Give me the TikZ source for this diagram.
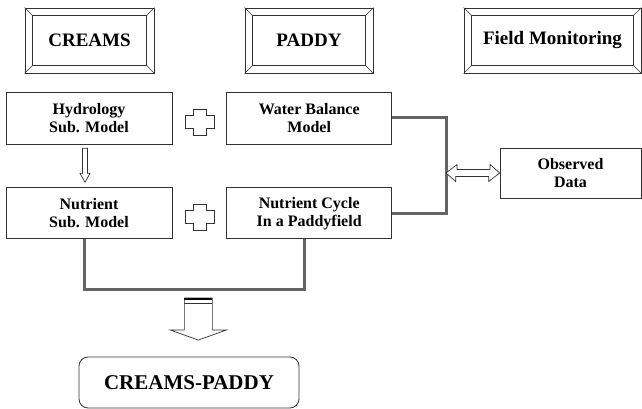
\documentclass[tikz,border=0pt]{standalone}
\usepackage{fontspec}
\setmainfont{Liberation Serif}
\usepackage{tikz}
\usetikzlibrary{calc, positioning}
\definecolor{boxLine}{RGB}{50, 50, 50}
\definecolor{linkGray}{RGB}{100, 100, 100}

\begin{document}
\begin{tikzpicture}[x=1pt, y=1pt,
  framebox/.style={draw=boxLine, line width=0.8pt, minimum height=65pt,
    font=\fontsize{19}{22}\selectfont\bfseries},
  modelbox/.style={draw=boxLine, line width=0.7pt, minimum width=166pt,
    minimum height=52pt, align=center, inner sep=0pt,
    font=\fontsize{16}{18}\selectfont\bfseries},
  link/.style={draw=linkGray, line width=3pt},
  hollow/.style={draw=boxLine, line width=0.7pt, fill=white}]
  \useasboundingbox (0,0) rectangle (642,409);

  % top row: the three parts
  \node[framebox, minimum width=129pt] (creams) at (89.5,368.5) {CREAMS};
  \node[framebox, minimum width=128pt] (paddy) at (309,368.5) {PADDY};
  \node[framebox, minimum width=177pt] (fieldmon) at (552.5,368.5) {Field Monitoring};
  \foreach \n in {creams, paddy, fieldmon} {
    \draw[boxLine, line width=0.6pt] ($(\n.north west)+(8,-8)$) rectangle ($(\n.south east)+(-8,8)$);
    \draw[boxLine, line width=0.6pt] (\n.north west) -- ++(8,-8) (\n.north east) -- ++(-8,-8)
      (\n.south west) -- ++(8,8) (\n.south east) -- ++(-8,8);
  }

  % sub models
  \node[modelbox] (hydro) at (89,291) {Hydrology\\Sub. Model};
  \node[modelbox, minimum width=165pt, right=54pt of hydro] (water) {Water Balance\\Model};
  \node[modelbox, below=43pt of hydro, minimum height=51pt] (nsub) {Nutrient\\Sub. Model};
  \node[modelbox, minimum width=165pt, minimum height=51pt, below=43pt of water] (ncycle) {Nutrient Cycle\\In a Paddyfield};
  \node[modelbox, minimum width=141pt, minimum height=50pt] (observed) at (570.5,236) {Observed\\Data};

  % plus signs
  \foreach \a/\b in {hydro/water, nsub/ncycle}
    \draw[hollow] ($(\a.east)!0.5!(\b.west)+(0,-4)$) ++(-6.5,13) -- ++(13,0) -- ++(0,-6.5)
      -- ++(8,0) -- ++(0,-13) -- ++(-8,0) -- ++(0,-6.5) -- ++(-13,0) -- ++(0,6.5)
      -- ++(-8,0) -- ++(0,13) -- ++(8,0) -- cycle;

  % hydrology -> nutrient
  \draw[hollow] ($(hydro.south)+(-4,-4)$) ++(-2.5,0) -- ++(5,0) -- ++(0,-25) -- ++(2.5,0)
    -- ++(-5,-9) -- ++(-5,9) -- ++(2.5,0) -- cycle;

  % paddy side joined to observed data
  \draw[link] (water.east) -- ++(54,0) coordinate (jn) |- (ncycle.east);
  \coordinate (jl) at (jn |- observed.west);
  \draw[hollow] (jl) -- ++(11,8.5) -- ++(0,-5) -- ++(33,0) -- ++(0,5) -- (observed.west)
    -- ++(-11,-8.5) -- ++(0,5) -- ++(-33,0) -- ++(0,-5) -- cycle;

  % both models combined
  \draw[link] ($(nsub.south)+(-5,0)$) coordinate (bl) -- ++(0,-50) -| ($(ncycle.south)+(-4.5,0)$) coordinate (br);
  \coordinate (at) at ($(bl)!0.5!(br)+(4,-59)$);
  \draw[hollow] (at) ++(-14,0) -- ++(28,0) -- ++(0,-32) -- ++(14,0) -- ++(-28,-10)
    -- ++(-28,10) -- ++(14,0) -- cycle;
  \draw[line width=2.5pt] ($(at)+(-14,-1)$) -- ++(28,0);
  \draw[boxLine, line width=0.6pt] ($(at)+(-14,-5)$) -- ++(28,0);

  \node[draw=boxLine, line width=0.8pt, rounded corners=9pt, minimum width=220pt,
    minimum height=51pt, font=\fontsize{21}{24}\selectfont\bfseries] (cp) at (189,26.5) {CREAMS-PADDY};
\end{tikzpicture}
\end{document}
